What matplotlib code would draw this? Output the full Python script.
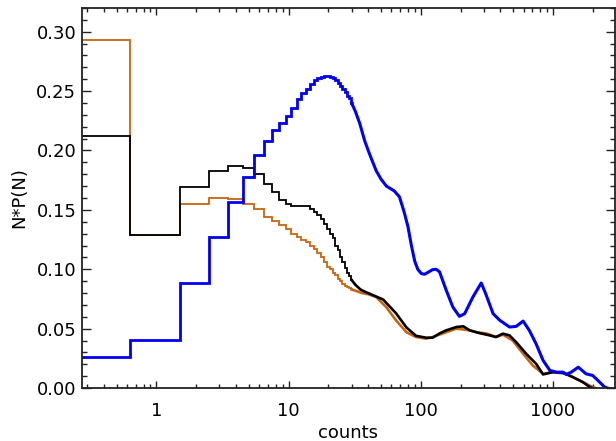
import numpy as np
import matplotlib
matplotlib.use("Agg")
import matplotlib.pyplot as plt
from matplotlib.ticker import FixedLocator, NullFormatter, LogLocator

# ---- data: low-count bins (drawn as histogram steps) ----
bin_counts = [0.27, 1, 2, 3, 4, 5, 6, 7, 8, 9, 10, 11, 12, 13, 14, 15, 16, 17, 18, 19, 20,
              21, 22, 23, 24, 25, 26, 27, 28, 29, 30]

orange_bins = [0.293, 0.129, 0.155, 0.160, 0.159, 0.155, 0.151, 0.144, 0.141, 0.137, 0.134,
               0.130, 0.127, 0.125, 0.123, 0.120, 0.117, 0.114, 0.110, 0.106, 0.102,
               0.100, 0.097, 0.095, 0.092, 0.090, 0.088, 0.086, 0.085, 0.084, 0.083]
black_bins = [0.212, 0.129, 0.169, 0.183, 0.187, 0.185, 0.180, 0.172, 0.165, 0.158, 0.155,
              0.1535, 0.153, 0.153, 0.153, 0.151, 0.148, 0.146, 0.142, 0.138, 0.134,
              0.130, 0.126, 0.120, 0.116, 0.110, 0.106, 0.101, 0.097, 0.094, 0.091]
blue_bins = [0.026, 0.0407, 0.0885, 0.127, 0.157, 0.178, 0.196, 0.208, 0.217, 0.223, 0.229,
             0.236, 0.243, 0.248, 0.252, 0.256, 0.259, 0.261, 0.262, 0.2625, 0.2625,
             0.262, 0.261, 0.259, 0.257, 0.254, 0.252, 0.249, 0.246, 0.244, 0.240]

# ---- data: high-count tails (bins too narrow to see) ----
orange_tail_x = [32, 36, 40, 46, 55, 65, 78, 92, 110, 123, 147, 186, 224, 265, 314, 371,
                 419, 497, 595, 705, 843, 1000, 1261, 1501, 1782, 2004, 2100]
orange_tail_y = [0.082, 0.080, 0.079, 0.0766, 0.068, 0.057, 0.047, 0.043, 0.0416, 0.043,
                 0.046, 0.050, 0.049, 0.047, 0.046, 0.043, 0.045, 0.040, 0.029, 0.019,
                 0.012, 0.0134, 0.012, 0.0078, 0.0036, 0.0008, 0.0]

black_tail_x = [32, 35, 38, 44, 52, 65, 78, 92, 110, 123, 139, 156, 186, 210, 235, 278,
                331, 371, 419, 469, 527, 627, 746, 843, 1000, 1195, 1418, 1689, 1906, 2000]
black_tail_y = [0.087, 0.083, 0.081, 0.078, 0.0745, 0.063, 0.051, 0.044, 0.0424, 0.0424,
                0.046, 0.0486, 0.0514, 0.052, 0.0486, 0.0463, 0.0444, 0.043, 0.0458,
                0.0444, 0.0387, 0.029, 0.0205, 0.0115, 0.0134, 0.0129, 0.0092, 0.005,
                0.0008, 0.0]

blue_tail_x = [32, 34.5, 37.7, 41, 46, 50, 55, 63, 69, 75, 80, 85, 90, 95, 101, 107, 123,
               131, 139, 156, 175, 196, 215, 248, 287, 310, 353, 397, 470, 527, 595, 663,
               746, 843, 950, 1067, 1195, 1261, 1377, 1557, 1782, 2004, 2258, 2466, 2600]
blue_tail_y = [0.233, 0.223, 0.208, 0.197, 0.183, 0.176, 0.170, 0.166, 0.161, 0.148, 0.136,
               0.120, 0.107, 0.100, 0.0964, 0.0958, 0.0997, 0.100, 0.0977, 0.0823, 0.0682,
               0.0604, 0.0626, 0.0766, 0.0885, 0.0795, 0.0626, 0.057, 0.0514, 0.0519,
               0.0564, 0.0486, 0.0373, 0.0233, 0.0148, 0.0134, 0.0134, 0.0115, 0.0134,
               0.0176, 0.012, 0.0106, 0.005, 0.0008, 0.0]

y_ticks = [0.00, 0.05, 0.10, 0.15, 0.20, 0.25, 0.30]
x_ticks = [1, 10, 100, 1000]
x_ticklabels = ["1", "10", "100", "1000"]

ORANGE = "#C8650F"
BLUE = "#0000F0"
BLACK = "#000000"

fig = plt.figure(figsize=(6.16, 4.41), dpi=100)
ax = fig.add_axes([0.133, 0.120, 0.865, 0.862])

series = [
    (orange_bins, orange_tail_x, orange_tail_y, ORANGE, 1.3, 1.9),
    (black_bins, black_tail_x, black_tail_y, BLACK, 1.3, 1.9),
    (blue_bins, blue_tail_x, blue_tail_y, BLUE, 2.0, 2.2),
]
for bins, tx, ty, col, lw1, lw2 in series:
    ax.step(bin_counts, bins, where="mid", color=col, lw=lw1, solid_joinstyle="miter")
    ax.plot([bin_counts[-1]] + tx, [bins[-1]] + ty, color=col, lw=lw2)

ax.set_xscale("log")
ax.set_xlim(0.273, 2940)
ax.set_ylim(0, 0.32)

ax.xaxis.set_major_locator(FixedLocator(x_ticks))
ax.set_xticklabels(x_ticklabels)
ax.xaxis.set_minor_locator(LogLocator(base=10, subs=np.arange(2, 10)))
ax.xaxis.set_minor_formatter(NullFormatter())
ax.yaxis.set_major_locator(FixedLocator(y_ticks))
ax.set_yticklabels([f"{v:.2f}" for v in y_ticks])
ax.yaxis.set_minor_locator(FixedLocator(np.arange(0, 0.321, 0.01)))

ax.tick_params(axis="both", which="both", direction="in", top=True, right=True,
               color="#222222", labelsize=13)
ax.tick_params(axis="y", which="major", length=6.5, width=1.0, pad=4)
ax.tick_params(axis="y", which="minor", length=3.3, width=1.0)
ax.tick_params(axis="x", which="major", length=4.8, width=1.0, pad=10)
ax.tick_params(axis="x", which="minor", length=2.6, width=1.0)
for s in ax.spines.values():
    s.set_linewidth(1.3)
    s.set_color("#222222")

ax.set_xlabel("counts", fontsize=13, labelpad=3)
ax.set_ylabel("N*P(N)", fontsize=13, labelpad=6)

fig.savefig("out.png", dpi=100)
